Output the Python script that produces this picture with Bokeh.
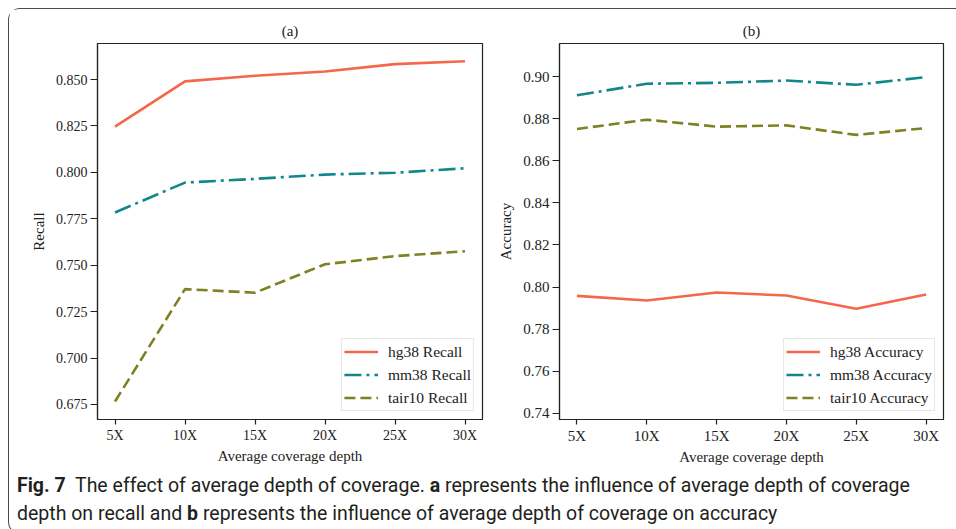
from bokeh.plotting import figure
from bokeh.models import Range1d, FixedTicker, Div, Column, Row
from bokeh.embed import file_html
from bokeh.resources import INLINE

# ---------------- data ----------------
depth = ["5X", "10X", "15X", "20X", "25X", "30X"]

hg38_recall = [0.8246, 0.8490, 0.8520, 0.8543, 0.8583, 0.8598]
mm38_recall = [0.7784, 0.7945, 0.7965, 0.7988, 0.7998, 0.8022]
tair10_recall = [0.6766, 0.7371, 0.7352, 0.7505, 0.7549, 0.7575]

hg38_acc = [0.7958, 0.7936, 0.7974, 0.7960, 0.7897, 0.7965]
mm38_acc = [0.8911, 0.8966, 0.8970, 0.8981, 0.8961, 0.8997]
tair10_acc = [0.8751, 0.8795, 0.8762, 0.8768, 0.8723, 0.8755]

recall_ticks = [0.675, 0.700, 0.725, 0.750, 0.775, 0.800, 0.825, 0.850]
recall_tick_labels = ["0.675", "0.700", "0.725", "0.750", "0.775", "0.800", "0.825", "0.850"]
acc_ticks = [0.74, 0.76, 0.78, 0.80, 0.82, 0.84, 0.86, 0.88, 0.90]
acc_tick_labels = ["0.74", "0.76", "0.78", "0.80", "0.82", "0.84", "0.86", "0.88", "0.90"]

series_names = ["hg38", "mm38", "tair10"]
# --------------------------------------

COLORS = ["#f5674a", "#12878a", "#7f8020"]
DASHES = ["solid", "17 5 3 5", "11 5"]
SERIF = "Liberation Serif"
x = list(range(len(depth)))


def make_panel(title, ylabel, series, metric, yr, ticks, tick_labels,
               width, height, mbl, mbr, tick_size, legend_size):
    p = figure(width=width, height=height, output_backend="svg",
               toolbar_location=None, x_range=Range1d(-0.25, len(depth) - 0.75),
               y_range=Range1d(*yr), min_border_left=mbl, min_border_right=mbr,
               min_border_top=34, min_border_bottom=40)
    p.title.text = title
    p.title.align = "center"
    p.title.text_font = SERIF
    p.title.text_font_size = "15px"
    p.title.text_font_style = "normal"
    p.title.text_color = "#222222"
    p.title.standoff = 10
    p.grid.visible = False
    p.outline_line_color = "#222222"
    p.outline_line_width = 1.2
    p.background_fill_color = "white"
    p.border_fill_color = "white"
    for ys, name, c, d in zip(series, series_names, COLORS, DASHES):
        p.line(x, ys, line_color=c, line_width=2.6, line_dash=d,
               legend_label=f"{name} {metric}")
    p.xaxis.ticker = FixedTicker(ticks=x)
    p.xaxis.major_label_overrides = {i: lab for i, lab in zip(x, depth)}
    p.yaxis.ticker = FixedTicker(ticks=ticks)
    p.yaxis.major_label_overrides = {t: lab for t, lab in zip(ticks, tick_labels)}
    for ax in (p.xaxis[0], p.yaxis[0]):
        ax.axis_line_color = "#222222"
        ax.axis_line_width = 1.2
        ax.major_tick_line_color = "#222222"
        ax.major_tick_line_width = 1.2
        ax.major_tick_in = 0
        ax.minor_tick_line_color = None
        ax.major_label_text_font = SERIF
        ax.major_label_text_font_size = tick_size
        ax.major_label_text_color = "#222222"
        ax.axis_label_text_font = SERIF
        ax.axis_label_text_font_size = "15px"
        ax.axis_label_text_font_style = "normal"
        ax.axis_label_text_color = "#222222"
        ax.major_label_standoff = 3
        ax.axis_label_standoff = 6
    p.xaxis.major_tick_out = 5
    p.xaxis.axis_label_standoff = 2
    p.yaxis.major_tick_out = 7
    p.xaxis.axis_label = "Average coverage depth"
    p.yaxis.axis_label = ylabel
    lg = p.legend[0]
    lg.location = "bottom_right"
    lg.margin = 8
    lg.padding = 2
    lg.spacing = 2
    lg.glyph_width = 34
    lg.glyph_height = 21
    lg.label_height = 21
    lg.label_standoff = 10
    lg.label_text_font = SERIF
    lg.label_text_font_size = legend_size
    lg.label_text_color = "#222222"
    lg.border_line_color = "#d0d0d0"
    lg.border_line_width = 1
    lg.background_fill_alpha = 0.9
    return p


pa = make_panel("(a)", "Recall", [hg38_recall, mm38_recall, tair10_recall], "Recall",
                (0.6669, 0.8694), recall_ticks, recall_tick_labels,
                width=486, height=458, mbl=88, mbr=13,
                tick_size="14px", legend_size="15.5px")
pb = make_panel("(b)", "Accuracy", [hg38_acc, mm38_acc, tair10_acc], "Accuracy",
                (0.7371, 0.9157), acc_ticks, acc_tick_labels,
                width=460, height=458, mbl=62, mbr=12,
                tick_size="15px", legend_size="15.5px")

caption = Div(
    text=("<b>Fig. 7</b>&nbsp; The effect of average depth of coverage. <b>a</b> represents the "
          "influence of average depth of coverage<br>depth on recall and <b>b</b> represents the "
          "influence of average depth of coverage on accuracy"),
    width=944, height=56,
    styles={"font-family": "Roboto", "font-size": "19.5px", "line-height": "28px",
            "color": "#231f20", "padding-left": "3px",
            "white-space": "nowrap"})

layout = Column(children=[Row(children=[pa, pb]), caption],
                styles={"margin-left": "8px", "margin-top": "8px",
                        "border-top": "1.5px solid #4a4a4a",
                        "border-left": "1.5px solid #4a4a4a",
                        "border-bottom": "1.5px solid #4a4a4a",
                        "border-top-left-radius": "12px",
                        "border-bottom-left-radius": "12px",
                        "background": "white"})

open("out.html", "w").write(file_html(layout, INLINE))
